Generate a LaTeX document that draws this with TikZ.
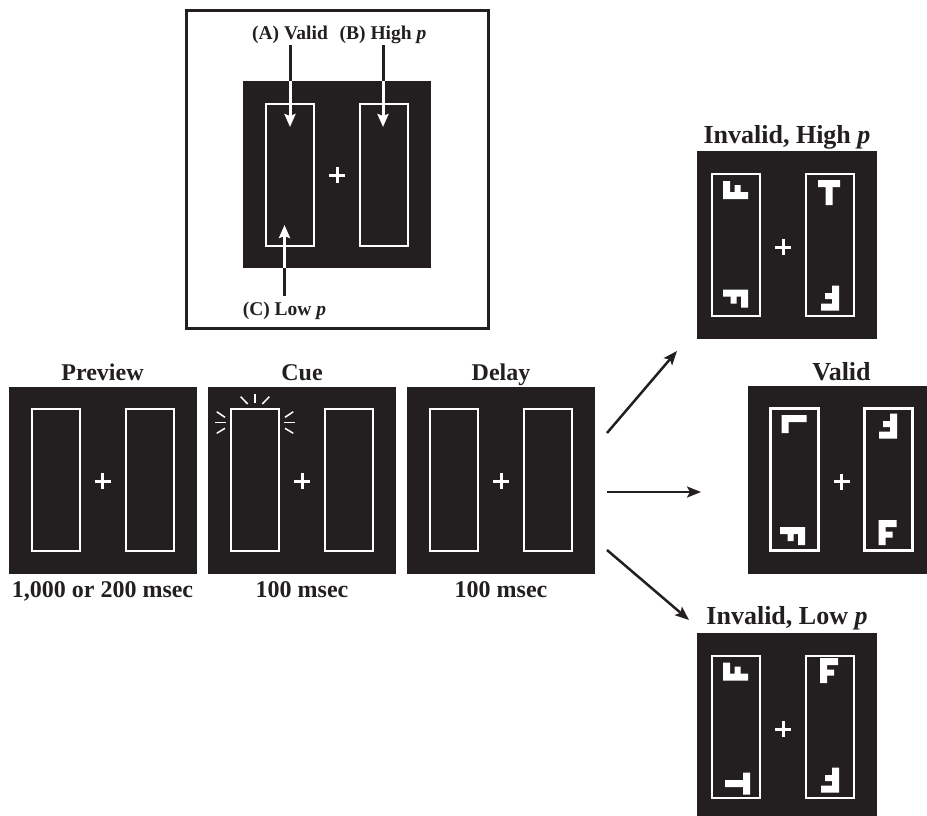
\documentclass[tikz,border=0pt]{standalone}
\usepackage{fontspec}
\setmainfont{Liberation Serif}
\usetikzlibrary{arrows.meta}
\definecolor{screenblack}{RGB}{35,31,32}

\tikzset{
  glyphF/.pic={\fill[white] (-9,-12.5) rectangle (-2,12.5) (-9,-12.5) rectangle (9,-5.5) (-9,-1) rectangle (5,5);},
  glyphT/.pic={\fill[white] (-11,-12.5) rectangle (11,-5.5) (-3.5,-12.5) rectangle (3.5,12.5);},
  glyphL/.pic={\fill[white] (-9,-12.5) rectangle (-2,12.5) (-9,5.5) rectangle (9,12.5);}
}

\begin{document}
\begin{tikzpicture}[x=1pt,y=-1pt,
  panel/.style={fill=screenblack,inner sep=0pt,outer sep=0pt,minimum width=188pt,minimum height=187pt},
  frame/.style={draw=white,line width=2pt},
  cross/.style={draw=white,line width=3pt},
  heading/.style={font=\fontsize{24}{28}\selectfont\bfseries,text=screenblack,anchor=base,inner sep=0pt},
  bigheading/.style={heading,font=\fontsize{26}{30}\selectfont\bfseries},
  tag/.style={font=\fontsize{19.5}{23}\selectfont\bfseries,text=screenblack,anchor=base,inner sep=1.7pt},
  stem/.style={draw=screenblack,line width=3pt},
  whitehead/.style={draw=white,line width=3pt,-{Stealth[length=13pt,width=11pt,inset=2pt]}},
  flow/.style={draw=screenblack,line width=2.5pt,-{Stealth[length=14pt,width=11pt,inset=3pt]}}]
  \useasboundingbox (0,0) rectangle (927,815);

  % inset with the three target locations
  \draw[line width=3pt,screenblack] (186,10) rectangle (488,328);
  \node[panel] (insetscreen) at (337,174.5) {};
  \draw[frame] (266,104) rectangle (314,246) (360,104) rectangle (408,246);
  \draw[cross] (329,175) -- (345,175) (337,167) -- (337,183);
  \node[tag] (labA) at (290,39) {(A) Valid};
  \node[tag] (labB) at (383,39) {(B) High \textit{p}};
  \node[tag,inner ysep=5.5pt] (labC) at (284.5,315) {(C) Low \textit{p}};
  \draw[stem] (labA.south) -- (labA.south |- insetscreen.north) coordinate (entA);
  \draw[whitehead] (entA) -- ++(0,46);
  \draw[stem] (labB.south) -- (labB.south |- insetscreen.north) coordinate (entB);
  \draw[whitehead] (entB) -- ++(0,46);
  \draw[stem] (labC.north) -- (labC.north |- insetscreen.south) coordinate (entC);
  \draw[whitehead] (entC) -- ++(0,-43);

  % preview, cue, delay
  \foreach \n/\cx/\lab/\dur in {preview/102.5/Preview/{1,000 or 200 msec},
                                cue/302/Cue/{100 msec},
                                delay/501/Delay/{100 msec}} {
    \node[panel] (\n) at (\cx,480) {};
    \draw[frame] (\cx-71,409) rectangle (\cx-23,551) (\cx+23,409) rectangle (\cx+71,551);
    \draw[cross] (\cx-8,481) -- (\cx+8,481) (\cx,473) -- (\cx,489);
    \node[heading] (\n-top) at (\cx,380) {\lab};
    \node[heading] (\n-bot) at (\cx,597) {\dur};
  }
  \foreach \ax/\ay/\bx/\by in {240.7/396.7/247.7/404, 255/394.3/255/402.7, 269.3/396.7/262.3/404,
                               216.7/411.7/225/417.3, 215/422.7/226/422.7, 216.7/433.3/225/428.3,
                               293.3/411.7/285/417.3, 295/422.7/284/422.7, 293.3/433.3/285/428.3}
    \draw[white,line width=1.5pt] (\ax,\ay) -- (\bx,\by);

  % target displays
  \foreach \n/\bx/\by/\bw/\cx/\lab/\ly in {hi/787/245/180/783/{Invalid, High \textit{p}}/143,
                                          va/841.5/479.5/188/841.5/Valid/380,
                                          lo/787/727/180/783/{Invalid, Low \textit{p}}/624} {
    \node[panel,minimum width=\bw pt,minimum height=188pt] (\n) at (\bx,\by) {};
    \draw[frame,line width=2.5pt] (\cx-71,\by-71) rectangle (\cx-23,\by+71) (\cx+23,\by-71) rectangle (\cx+71,\by+71);
    \draw[cross] (\cx-8,\by+2) -- (\cx+8,\by+2) (\cx,\by-6) -- (\cx,\by+10);
    \node[bigheading] (\n-top) at (\bx,\ly) {\lab};
  }
  \foreach \g/\r/\gx/\gy in {F/90/735.5/190, F/-90/735.5/298.5, T/0/829/192.5, F/180/830/298,
                             L/-90/794/424, F/-90/792.5/536, F/180/888/426, F/0/887.5/532.5,
                             F/90/735.5/671.5, T/-90/737.5/783.5, F/0/829/670.5, F/180/830/780}
    \pic[rotate=\r] at (\gx,\gy) {glyph\g};

  \coordinate (outhi) at (607,433);
  \coordinate (inhi) at (677,351);
  \coordinate (outva) at (607,492);
  \coordinate (inva) at (701,492);
  \coordinate (outlo) at (607,550);
  \coordinate (inlo) at (689,620);
  \draw[flow] (outhi) -- (inhi);
  \draw[flow] (outva) -- (inva);
  \draw[flow] (outlo) -- (inlo);
\end{tikzpicture}
\end{document}
